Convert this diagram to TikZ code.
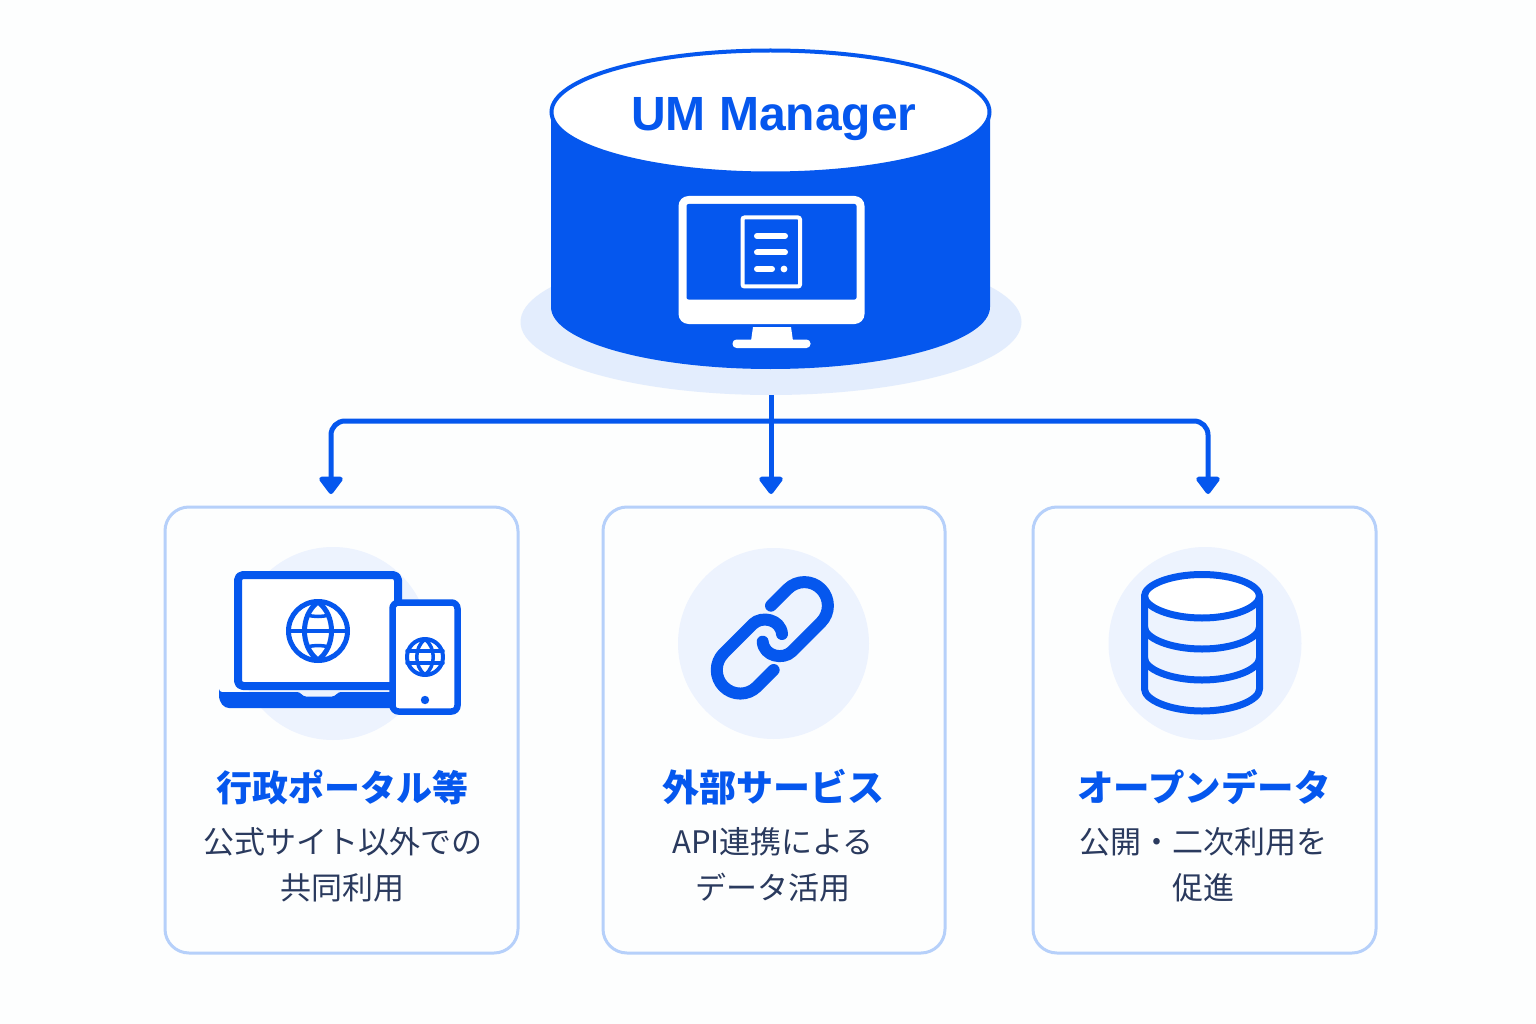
\documentclass[tikz,border=0pt]{standalone}
\usepackage{fontspec}
\usetikzlibrary{arrows.meta,shapes.geometric}
\setmainfont{Noto Sans CJK JP}
\newfontfamily\jp{Noto Sans CJK JP}
\newfontfamily\titlef{Liberation Sans}
\definecolor{bluem}{HTML}{0557EE}
\definecolor{shadowc}{HTML}{E3EDFD}
\definecolor{tintc}{HTML}{EDF3FE}
\definecolor{edgec}{HTML}{B6D0FA}
\definecolor{inkc}{HTML}{2A3A5E}
\definecolor{bgc}{HTML}{FDFEFE}
\tikzset{
  cardbox/.style={draw=edgec,line width=3pt,fill=bgc,rounded corners=24pt,inner sep=0pt,outer sep=0pt,anchor=north west},
  tint/.style={fill=tintc,draw=none,circle,inner sep=0pt},
  conn/.style={draw=bluem,line width=5pt,rounded corners=14pt,-{Triangle[width=27pt,length=19pt,round]},line join=round},
  icon/.style={draw=bluem,line cap=round,line join=round},
  headt/.style={font=\jp\bfseries\fontsize{36}{40}\selectfont,text=bluem,inner sep=0pt},
  subt/.style={font=\jp\fontsize{31}{46}\selectfont,text=inkc,align=center,inner sep=0pt},
  wline/.style={draw=white,line width=6pt,line cap=round},
}
\begin{document}
\begin{tikzpicture}[x=1pt,y=-1pt]
\useasboundingbox (0,0) rectangle (1536,1024);
\fill[bgc] (0,0) rectangle (1536,1024);

% base shadow
\node[ellipse,fill=shadowc,inner sep=0pt,minimum width=501pt,minimum height=146pt] (shadow) at (771,322) {};

% cylinder
\fill[bluem] (551,110) -- (551,307) .. controls (551,341) and (649,369) .. (770.5,369)
  .. controls (892,369) and (990,341) .. (990,307) -- (990,110) -- cycle;
\node[ellipse,draw=bluem,line width=4pt,fill=white,inner sep=0pt,minimum width=438pt,minimum height=123pt] (top) at (770.5,112) {};
\node[font=\titlef\bfseries\fontsize{48}{48}\selectfont,text=bluem,inner sep=0pt,anchor=base] (title) at (774,131) {UM Manager};

% monitor
\fill[white,rounded corners=10pt] (678.5,196) rectangle (864.5,324);
\fill[bluem,rounded corners=2pt] (686.5,204) rectangle (856.5,299.5);
\fill[white] (753,327) -- (791,327) -- (793,341) -- (751,341) -- cycle;
\fill[white,rounded corners=4pt] (732.5,339.5) rectangle (810.5,348);
\draw[white,line width=4pt,rounded corners=2pt] (742.5,217.5) rectangle (800,286.5);
\draw[wline] (757,236) -- (785,236);
\draw[wline] (757,252.5) -- (785,252.5);
\draw[wline] (757,269) -- (772,269);
\fill[white] (784,269) circle (3.4pt);

% connectors
\coordinate (bus) at (771,421);
\coordinate (tipa) at (331,494);
\coordinate (tipb) at (771,494);
\coordinate (tipc) at (1208,494);
\draw[conn] (bus) -| (tipa);
\draw[conn] (bus) -| (tipc);
\draw[conn] (shadow.south) -- (tipb);

% cards
\node[cardbox,minimum width=353pt,minimum height=446pt] (carda) at (165,507) {};
\node[cardbox,minimum width=342pt,minimum height=446pt] (cardb) at (603,507) {};
\node[cardbox,minimum width=343pt,minimum height=446pt] (cardc) at (1033,507) {};

% tint discs
\node[tint,minimum size=193pt] (disca) at (333,643.5) {};
\node[tint,minimum size=191pt] (discb) at (773.5,643.5) {};
\node[tint,minimum size=193pt] (discc) at (1205,643.5) {};

% laptop + phone
\fill[bluem,rounded corners=3pt] (219,692) -- (300,692) -- (303,696.5) -- (335,696.5) -- (338,692) -- (400,692) -- (400,708) -- (232,708)
  .. controls (224,708) and (219,703) .. (219,692) -- cycle;
\draw[icon,line width=8pt,fill=white,rounded corners=5pt] (238,575) rectangle (398,686);
\draw[icon,line width=6.5pt,fill=white,rounded corners=6pt] (392.5,602.5) rectangle (457.5,711.5);
% big globe
\draw[icon,line width=5pt] (318,631) circle (29.5pt);
\draw[icon,line width=5pt] (318,602) .. controls (300,615) and (300,647) .. (318,660) .. controls (336,647) and (336,615) .. (318,602) -- cycle;
\draw[icon,line width=4.5pt] (289,631) -- (347,631);
\draw[icon,line width=3.5pt] (307,615) .. controls (314,617) and (322,617) .. (329,615);
\draw[icon,line width=3.5pt] (307,647) .. controls (314,645) and (322,645) .. (329,647);
% small globe
\draw[icon,line width=4pt] (425,657) circle (18pt);
\draw[icon,line width=3.5pt] (425,639) .. controls (414,648) and (414,666) .. (425,675) .. controls (436,666) and (436,648) .. (425,639) -- cycle;
\draw[icon,line width=3.5pt] (407,651) -- (443,651);
\draw[icon,line width=3.5pt] (407,663) -- (443,663);
\fill[bluem] (425,700) circle (4.2pt);

% chain link
\begin{scope}[shift={(660,540)},x=0.33333pt,y=-0.33333pt]
\draw[icon,line width=12pt] (333,197) -- (383,147) .. controls (410.6,119.4) and (455.4,119.4) .. (483,147)
  .. controls (510.6,174.6) and (510.6,219.4) .. (483,247) -- (395,335)
  .. controls (370,360) and (312,350) .. (308,305);
\draw[icon,line width=12pt] (341,390) -- (291,440) .. controls (263.4,467.6) and (218.6,467.6) .. (191,440)
  .. controls (163.4,412.4) and (163.4,367.6) .. (191,340) -- (279,252)
  .. controls (304,227) and (362,237) .. (366,282);
\end{scope}

% database
\draw[icon,line width=7pt,fill=white] (1144.5,596) .. controls (1144.5,585) and (1170,574.5) .. (1202,574.5)
  .. controls (1234,574.5) and (1259.5,585) .. (1259.5,596)
  .. controls (1259.5,607) and (1234,618) .. (1202,618)
  .. controls (1170,618) and (1144.5,607) .. (1144.5,596) -- cycle;
\draw[icon,line width=7pt] (1144.5,596) -- (1144.5,689) .. controls (1144.5,700) and (1170,711) .. (1202,711)
  .. controls (1234,711) and (1259.5,700) .. (1259.5,689) -- (1259.5,596);
\draw[icon,line width=7pt] (1144.5,627) .. controls (1144.5,638) and (1170,649) .. (1202,649)
  .. controls (1234,649) and (1259.5,638) .. (1259.5,627);
\draw[icon,line width=7pt] (1144.5,658) .. controls (1144.5,669) and (1170,680) .. (1202,680)
  .. controls (1234,680) and (1259.5,669) .. (1259.5,658);

% card text
\node[headt] (heada) at (342,787.5) {行政ポータル等};
\node[headt,font=\jp\bfseries\fontsize{37}{40}\selectfont] (headb) at (773.5,787.5) {外部サービス};
\node[headt,font=\jp\bfseries\fontsize{36.5}{40}\selectfont] (headc) at (1204,787.5) {オープンデータ};
\node[subt] (suba) at (342.5,865) {公式サイト以外での\\共同利用};
\node[subt] (subb) at (773,865) {API連携による\\データ活用};
\node[subt] (subc) at (1203,865) {公開・二次利用を\\促進};
\end{tikzpicture}
\end{document}
